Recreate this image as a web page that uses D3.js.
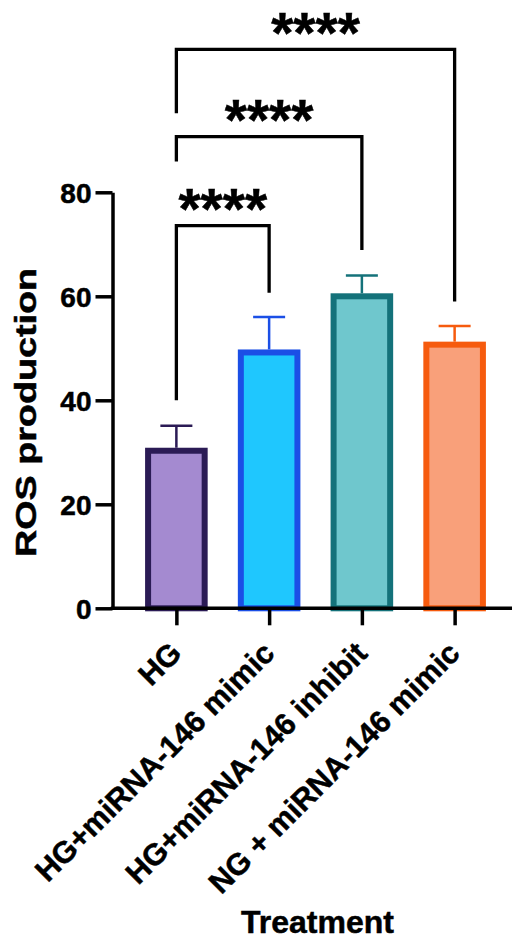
<!DOCTYPE html>
<html>
<head>
<meta charset="utf-8">
<script src="https://cdn.jsdelivr.net/npm/d3@7"></script>
<style>
  html, body { margin: 0; padding: 0; background: #fff; }
  svg { display: block; }
  text { font-family: "Liberation Sans", Arial, sans-serif; font-weight: bold; fill: #000; stroke: #000; stroke-width: 0.5px; }
</style>
</head>
<body>
<svg id="chart" width="512" height="940"></svg>
<script>
// ---- data ----
const categories = ["HG", "HG+miRNA-146 mimic", "HG+miRNA-146 inhibit", "NG + miRNA-146 mimic"];
const means = [30.3, 49.2, 60.0, 50.7];
const sds = [4.8, 6.8, 4.0, 3.6];
const fills = ["#a48ad0", "#1fc7fe", "#6fc7cd", "#f9a07a"];
const strokes = ["#2b1b55", "#1b4fe6", "#14727a", "#f65b0e"];
const yTicks = [0, 20, 40, 60, 80];
const yTitle = "ROS production";
const xTitle = "Treatment";
// significance comparisons (levels in data units)
const compFrom = [0, 0, 0];
const compTo = [1, 2, 3];
const compTop = [73.6, 90.7, 107.5];
const compLeftEnd = [40.0, 85.9, 95.2];
const compRightEnd = [60.7, 68.9, 59.0];
const compLabel = ["****", "****", "****"];

// ---- layout ----
const svg = d3.select("#chart");
const y = d3.scaleLinear().domain([0, 80]).range([608.3, 192.3]);
const x = d3.scalePoint().domain(categories).range([130, 501]).padding(0.5);
const axisX = 112.5;
const barW = x.step() * 0.61;

// bars
svg.append("g").selectAll("rect").data(categories).join("rect")
  .attr("x", d => x(d) - barW / 2)
  .attr("y", (d, i) => y(means[i]))
  .attr("width", barW)
  .attr("height", (d, i) => y(0) - y(means[i]))
  .attr("fill", (d, i) => fills[i])
  .attr("stroke", (d, i) => strokes[i])
  .attr("stroke-width", 6);

// error bars
const eb = svg.append("g");
categories.forEach((c, i) => {
  const cx = x(c);
  eb.append("line").attr("x1", cx).attr("x2", cx)
    .attr("y1", y(means[i]) - 3).attr("y2", y(means[i] + sds[i]))
    .attr("stroke", strokes[i]).attr("stroke-width", 2.5);
  eb.append("line").attr("x1", cx - 16).attr("x2", cx + 16)
    .attr("y1", y(means[i] + sds[i])).attr("y2", y(means[i] + sds[i]))
    .attr("stroke", strokes[i]).attr("stroke-width", 2.5);
});

// y axis
const yAxis = svg.append("g").attr("transform", `translate(${axisX},0)`)
  .call(d3.axisLeft(y).tickValues(yTicks).tickSize(17).tickSizeOuter(0).tickPadding(4));
yAxis.attr("font-family", null).attr("font-size", null);
yAxis.select(".domain").attr("stroke", "#000").attr("stroke-width", 3.5);
yAxis.selectAll(".tick line").attr("stroke", "#000").attr("stroke-width", 3.5);
yAxis.selectAll(".tick text").attr("font-size", 28).attr("dy", "0.36em");

// x axis
const xAxis = svg.append("g").attr("transform", `translate(0,${y(0)})`)
  .call(d3.axisBottom(x).tickSize(17).tickSizeOuter(0).tickFormat(""));
xAxis.select(".domain").remove();
xAxis.selectAll(".tick line").attr("stroke", "#000").attr("stroke-width", 3.5);
svg.append("line").attr("x1", axisX - 1.75).attr("x2", 512)
  .attr("y1", y(0)).attr("y2", y(0)).attr("stroke", "#000").attr("stroke-width", 3.5);

// x tick labels rotated
svg.append("g").selectAll("text").data(categories).join("text")
  .attr("transform", d => `translate(${x(d) + 7},${655}) rotate(-45)`)
  .attr("text-anchor", "end")
  .attr("font-size", 30.5)
  .text(d => d);

// axis titles
svg.append("text")
  .attr("transform", `translate(36,412.5) rotate(-90)`)
  .attr("text-anchor", "middle")
  .attr("font-size", 30)
  .attr("textLength", 289)
  .attr("lengthAdjust", "spacingAndGlyphs")
  .text(yTitle);

svg.append("text")
  .attr("x", 317.5).attr("y", 933)
  .attr("text-anchor", "middle")
  .attr("font-size", 32)
  .text(xTitle);

// significance brackets
const br = svg.append("g");
compFrom.forEach((f, k) => {
  const x1 = x(categories[f]), x2 = x(categories[compTo[k]]);
  const path = d3.path();
  path.moveTo(x1, y(compLeftEnd[k]));
  path.lineTo(x1, y(compTop[k]));
  path.lineTo(x2, y(compTop[k]));
  path.lineTo(x2, y(compRightEnd[k]));
  br.append("path").attr("d", path.toString())
    .attr("fill", "none").attr("stroke", "#000").attr("stroke-width", 3.3)
    .attr("stroke-linejoin", "miter");
  br.append("text")
    .attr("x", (x1 + x2) / 2)
    .attr("y", y(compTop[k]) + 3.5)
    .attr("text-anchor", "middle")
    .attr("font-size", 57)
    .text(compLabel[k]);
});
</script>
</body>
</html>
